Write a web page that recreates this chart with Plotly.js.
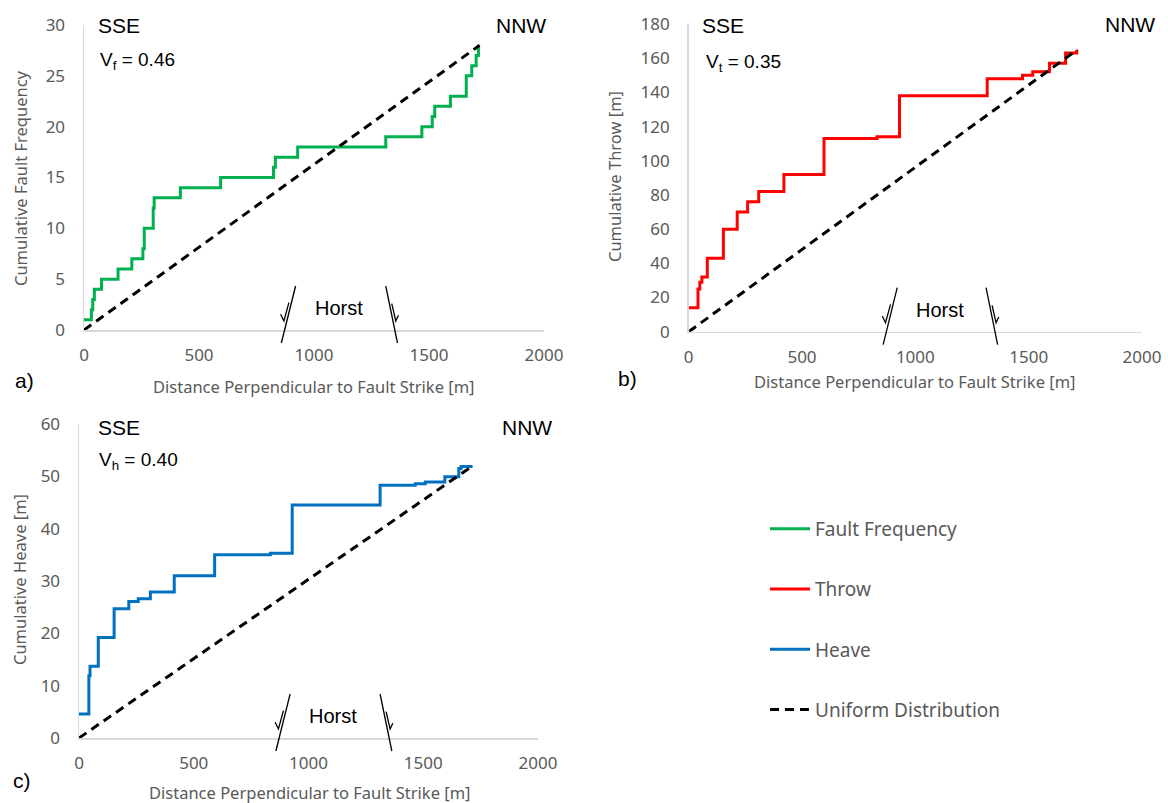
<!DOCTYPE html>
<html><head><meta charset="utf-8">
<script src="https://cdn.plot.ly/plotly-3.0.1.min.js"></script>
<style>html,body{margin:0;padding:0;background:#fff}#chart{width:1168px;height:803px}</style>
</head><body><div id="chart"></div>
<script>
// ---------------- data ----------------
const seriesNames = ['Fault Frequency', 'Throw', 'Heave', 'Uniform Distribution'];
const freqX  = [0, 32, 38, 45, 76, 148, 208, 256, 262, 301, 305, 419, 594, 824, 832, 929, 1312, 1469, 1514, 1525, 1593, 1662, 1686, 1705, 1715];
const freqY  = [1, 2, 3, 4, 5, 6, 7, 8, 10, 12, 13, 14, 15, 16, 17, 18, 19, 20, 21, 22, 23, 25, 26, 27, 28];
const throwX = [0, 41, 49, 58, 82, 153, 214, 260, 309, 420, 597, 831, 930, 1317, 1473, 1518, 1592, 1663, 1712];
const throwY = [14, 25, 29, 32, 43, 60, 70, 76, 82, 92, 113, 114, 138, 148, 150, 152, 157, 163, 165];
const heaveX = [0, 43, 48, 84, 153, 217, 258, 311, 415, 591, 834, 929, 1312, 1465, 1509, 1594, 1655, 1665, 1715];
const heaveY = [4.6, 11.9, 13.7, 19.2, 24.7, 26.1, 26.6, 27.9, 31.0, 35.0, 35.3, 44.5, 48.3, 48.6, 48.9, 49.9, 51.5, 51.9, 51.9];
const uniformFreqX  = [0, 1720]; const uniformFreqY  = [0, 28];
const uniformThrowX = [0, 1715]; const uniformThrowY = [0, 165];
const uniformHeaveX = [0, 1715]; const uniformHeaveY = [0, 52];
const xTicks = [0, 500, 1000, 1500, 2000];
const yRanges = [[0, 30], [0, 180], [0, 60]];
const yDticks = [5, 20, 10];
const panelLabels = ['a)', 'b)', 'c)'];
const vLabels = ['V<sub>f</sub> = 0.46', 'V<sub>t</sub> = 0.35', 'V<sub>h</sub> = 0.40'];
const yTitles = ['Cumulative Fault Frequency', 'Cumulative Throw [m]', 'Cumulative Heave [m]'];
const xTitle = 'Distance Perpendicular to Fault Strike [m]';
const dirLeft = 'SSE', dirRight = 'NNW', horstLabel = 'Horst';

// ---------------- layout geometry (pixels) ----------------
const W = 1168, H = 803;
const boxes = [
  {l: 84,    r: 544,  t: 25,  b: 330},
  {l: 688.7, r: 1142, t: 24,  b: 331.7},
  {l: 79,    r: 538,  t: 424, b: 738}
];
const px = x => x / W;
const py = y => 1 - y / H;
const mx = (i, m) => boxes[i].l + m * (boxes[i].r - boxes[i].l) / 2000;

const GREEN = '#00B050', RED = '#FF0000', BLUE = '#0070C0';
const DASH = '9px,6px';
const tickFont = {family: 'Noto Sans, Open Sans, sans-serif', size: 17, color: '#595959'};
const titleFont = {family: 'Noto Sans, Open Sans, sans-serif', size: 16.5, color: '#595959'};
const blackFont = s => ({family: 'Liberation Sans, Arial, sans-serif', size: s, color: '#000'});

const traces = [
  {x: freqX, y: freqY, xaxis: 'x', yaxis: 'y', mode: 'lines', name: seriesNames[0], legendgroup: 'g1',
   line: {shape: 'hv', color: GREEN, width: 3}},
  {x: throwX, y: throwY, xaxis: 'x2', yaxis: 'y2', mode: 'lines', name: seriesNames[1], legendgroup: 'g2',
   line: {shape: 'hv', color: RED, width: 3}},
  {x: heaveX, y: heaveY, xaxis: 'x3', yaxis: 'y3', mode: 'lines', name: seriesNames[2], legendgroup: 'g3',
   line: {shape: 'hv', color: BLUE, width: 3}},
  {x: uniformFreqX, y: uniformFreqY, xaxis: 'x', yaxis: 'y', mode: 'lines', name: seriesNames[3], legendgroup: 'g4',
   line: {color: '#000', width: 3, dash: DASH}},
  {x: uniformThrowX, y: uniformThrowY, xaxis: 'x2', yaxis: 'y2', mode: 'lines', name: seriesNames[3], showlegend: false,
   line: {color: '#000', width: 3, dash: DASH}},
  {x: uniformHeaveX, y: uniformHeaveY, xaxis: 'x3', yaxis: 'y3', mode: 'lines', name: seriesNames[3], showlegend: false,
   line: {color: '#000', width: 3, dash: DASH}}
];

const layout = {
  width: W, height: H,
  margin: {l: 0, r: 0, t: 0, b: 0},
  paper_bgcolor: '#fff', plot_bgcolor: 'rgba(0,0,0,0)',
  showlegend: true,
  legend: {x: px(765), xanchor: 'left', y: py(510), yanchor: 'top',
           font: {family: 'Noto Sans, Open Sans, sans-serif', size: 19, color: '#595959'},
           tracegroupgap: 32.5, itemwidth: 40, traceorder: 'grouped', bgcolor: 'rgba(0,0,0,0)'},
  annotations: [],
  shapes: []
};

boxes.forEach((b, i) => {
  const s = i === 0 ? '' : String(i + 1);
  layout['xaxis' + s] = {
    domain: [px(b.l), px(b.r)], anchor: 'y' + s, range: [0, 2000], tickvals: xTicks,
    showline: true, linecolor: '#D9D9D9', linewidth: 1.5, showgrid: false, zeroline: false,
    ticks: '', tickfont: tickFont, ticklabelstandoff: 9, fixedrange: true
  };
  layout['yaxis' + s] = {
    domain: [py(b.b), py(b.t)], anchor: 'x' + s, range: yRanges[i], dtick: yDticks[i],
    showline: true, linecolor: '#D9D9D9', linewidth: 1.5, showgrid: false, zeroline: false,
    ticks: '', tickfont: tickFont, ticklabelstandoff: 14, fixedrange: true
  };
});

// text positions (pixels)
const textPos = [
  {sse: [119, 25],  nnw: [521, 25],  v: [98, 61],  lab: [13, 380],  xt: [314, 387], yt: [20, 178]},
  {sse: [723, 25],  nnw: [1130, 24], v: [704, 63], lab: [616, 378], xt: [915, 381], yt: [614, 177]},
  {sse: [119, 427], nnw: [527, 427], v: [97, 461], lab: [11, 780],  xt: [310, 792], yt: [19, 580]}
];
textPos.forEach((t, i) => {
  const A = layout.annotations;
  A.push({xref: 'paper', yref: 'paper', x: px(t.sse[0]), y: py(t.sse[1]), text: dirLeft, showarrow: false, xanchor: 'center', yanchor: 'middle', font: blackFont(21)});
  A.push({xref: 'paper', yref: 'paper', x: px(t.nnw[0]), y: py(t.nnw[1]), text: dirRight, showarrow: false, xanchor: 'center', yanchor: 'middle', font: blackFont(21)});
  A.push({xref: 'paper', yref: 'paper', x: px(t.v[0]), y: py(t.v[1]), text: vLabels[i], showarrow: false, xanchor: 'left', yanchor: 'middle', font: blackFont(19)});
  A.push({xref: 'paper', yref: 'paper', x: px(t.lab[0]), y: py(t.lab[1]), text: panelLabels[i], showarrow: false, xanchor: 'left', yanchor: 'middle', font: blackFont(21)});
  A.push({xref: 'paper', yref: 'paper', x: px(t.xt[0]), y: py(t.xt[1]), text: xTitle, showarrow: false, xanchor: 'center', yanchor: 'middle', font: titleFont});
  A.push({xref: 'paper', yref: 'paper', x: px(t.yt[0]), y: py(t.yt[1]), text: yTitles[i], showarrow: false, xanchor: 'center', yanchor: 'middle', textangle: -90, font: titleFont});
  // Horst label and fault symbols
  const ax0 = boxes[i].b;
  A.push({xref: 'paper', yref: 'paper', x: px(mx(i, 1108)), y: py(ax0 - 22), text: horstLabel, showarrow: false, xanchor: 'center', yanchor: 'middle', font: blackFont(20)});
  const lt = mx(i, 920), lb = mx(i, 858), rt = mx(i, 1312), rb = mx(i, 1363);
  const top = ax0 - 44, bot = ax0 + 13;
  const P = (pts) => 'M' + pts.map(p => px(p[0]) + ',' + py(p[1])).join(' L');
  const ln = {color: '#000', width: 1.3};
  layout.shapes.push({type: 'path', xref: 'paper', yref: 'paper', path: P([[lt, top], [lb, bot]]), line: ln});
  layout.shapes.push({type: 'path', xref: 'paper', yref: 'paper', path: P([[lt - 15, top + 28.3], [lt - 11.7, top + 35], [lt - 6.7, top + 16.7]]), line: ln});
  layout.shapes.push({type: 'path', xref: 'paper', yref: 'paper', path: P([[rt, top], [rb, bot]]), line: ln});
  layout.shapes.push({type: 'path', xref: 'paper', yref: 'paper', path: P([[rt + 6, top + 17.7], [rt + 10, top + 35], [rt + 12.7, top + 29.3]]), line: ln});
});

Plotly.newPlot('chart', traces, layout, {displayModeBar: false, staticPlot: true});
</script>
</body></html>
